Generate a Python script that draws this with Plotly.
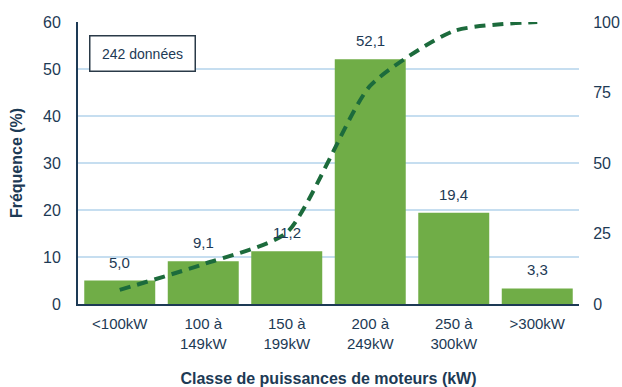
import plotly.graph_objects as go

# Motor power classes and their share of the 242 records
categories = ["<100kW", "100 à<br>149kW", "150 à<br>199kW", "200 à<br>249kW", "250 à<br>300kW", ">300kW"]
frequency = [5.0, 9.1, 11.2, 52.1, 19.4, 3.3]
cumulative = [5.0, 14.1, 25.3, 77.4, 96.8, 100.0]
left_ticks = [0, 10, 20, 30, 40, 50, 60]
right_ticks = [0, 25, 50, 75, 100]

navy = "#1d3a55"
font_family = "Liberation Sans, Arial, sans-serif"

fig = go.Figure()

fig.add_trace(go.Bar(
    x=categories,
    y=frequency,
    marker=dict(color="#70ad47", line=dict(width=0)),
    showlegend=False,
))

fig.add_trace(go.Scatter(
    x=categories,
    y=cumulative,
    yaxis="y2",
    mode="lines",
    line=dict(color="#1c6b3c", width=4, dash="11px,7px", shape="spline", smoothing=0.6),
    showlegend=False,
))

# Value labels above each bar, French decimal comma
for cat, val in zip(categories, frequency):
    fig.add_annotation(
        x=cat, y=val, xref="x", yref="y",
        text=f"{val:.1f}".replace(".", ","),
        showarrow=False, yanchor="bottom", yshift=8,
        font=dict(size=15, color=navy, family=font_family),
    )

fig.add_annotation(
    text="242 données",
    xref="paper", yref="paper",
    x=0.022, y=0.887, xanchor="left", yanchor="middle",
    showarrow=False,
    width=100, height=30,
    font=dict(size=14, color=navy, family=font_family),
    bordercolor="#2a3a48", borderwidth=1.5, borderpad=2,
    bgcolor="white",
)

fig.update_layout(
    width=622, height=387,
    margin=dict(l=78, r=43, t=22, b=83),
    paper_bgcolor="white",
    plot_bgcolor="white",
    bargap=0.15,
    font=dict(family=font_family, color=navy, size=15),
    xaxis=dict(
        automargin=False,
        showline=True, linecolor=navy, linewidth=2,
        ticks="outside", ticklen=5, tickcolor="rgba(0,0,0,0)",
        tickfont=dict(size=15, color=navy),
        title=dict(text="<b>Classe de puissances de moteurs (kW)</b>",
                   font=dict(size=16, color=navy), standoff=22),
    ),
    yaxis=dict(
        automargin=False,
        range=[0, 60], tickvals=left_ticks,
        showline=True, linecolor=navy, linewidth=2,
        showgrid=True, gridcolor="#c6def0", gridwidth=1.5,
        zeroline=False,
        tickfont=dict(size=16, color=navy),
        ticks="outside", ticklen=12, tickcolor="rgba(0,0,0,0)",
        title=dict(text="<b>Fréquence (%)</b>", font=dict(size=16, color=navy), standoff=16),
    ),
    yaxis2=dict(
        automargin=False,
        overlaying="y", side="right",
        range=[0, 100], tickvals=right_ticks,
        showgrid=False, showline=False, zeroline=False,
        tickfont=dict(size=16, color=navy),
        ticks="outside", ticklen=10, tickcolor="rgba(0,0,0,0)",
    ),
)

fig.write_html("out.html")
